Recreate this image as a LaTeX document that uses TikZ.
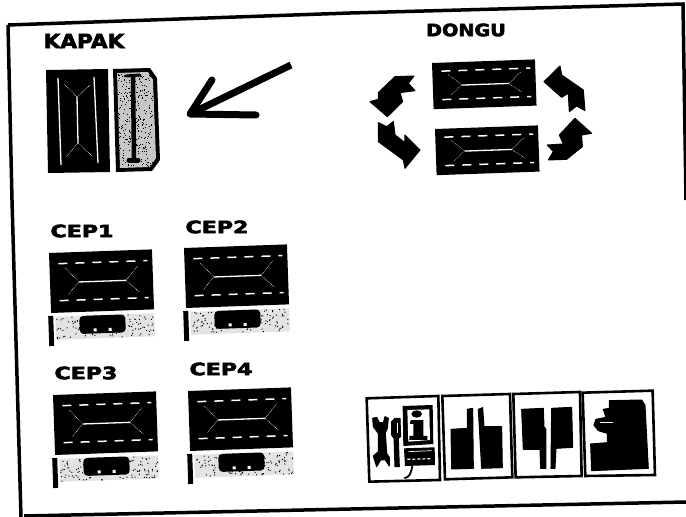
\documentclass[tikz,border=0pt]{standalone}
\usepackage{fontspec}
\setmainfont{DejaVu Sans}
\newfontfamily\titlefont[FakeBold=3]{DejaVu Sans Bold}

\newcommand{\dither}[5]{%
	\foreach \i in {1,...,#5} {
		\pgfmathsetmacro{\px}{#1+rnd*#3}
		\pgfmathsetmacro{\py}{#2+rnd*#4}
		\fill[black] (\px,\py) rectangle +(1,1);
	}
}

\tikzset{
	title/.style={font=\fontsize{17}{20}\titlefont, inner sep=0pt},
	road/.style={white, line width=1.3pt},
	roadedge/.style={white, line width=1.5pt, dash pattern=on 9pt off 8pt},
	roaddiag/.style={white, line width=0.6pt, densely dotted},
	frameline/.style={line width=3.5pt},
	iconbox/.style={draw=black, fill=white, line width=2.6pt},
	solid shape/.style={fill=black, draw=black, line width=1pt, line join=round}
}

\begin{document}
\begin{tikzpicture}[x=1pt, y=-1pt]
	\useasboundingbox (0,0) rectangle (686,517);
	\pgfmathsetseed{11}

	% Outer frame
	\draw[frameline] (8,25) -- (350,13) -- (683,4) -- (686,200);
	\draw[frameline] (8,25) -- (12,200) -- (21,517);
	\draw[frameline] (24,516) -- (350,509) -- (686,502);

	% Titles
	\node[title, xscale=1.27, yscale=1.15] (kapak) at (84,41) {KAPAK};
	\node[title, xscale=1.13] (dongu) at (466,30) {DONGU};
	\node[title, xscale=1.3] (cep1) at (82,231) {CEP1};
	\node[title, xscale=1.3] (cep2) at (217,227) {CEP2};
	\node[title, xscale=1.3] (cep3) at (86,373) {CEP3};
	\node[title, xscale=1.3] (cep4) at (221,369) {CEP4};

	% Side view tile
	\fill[black] (46,70) -- (108,69) -- (110,172) -- (48,173) -- cycle;
	\draw[road] (58,78) -- (61,165);
	\draw[road] (94,77) -- (98,163);
	\draw[road] (77,97) -- (78,143);
	\draw[roaddiag] (64,84) -- (77,97) -- (90,85);
	\draw[roaddiag] (66,157) -- (78,143) -- (92,156);

	% Side plate
	\fill[black] (113,69) -- (150,68) -- (157,78) -- (160,160) -- (152,171) -- (116,172) -- cycle;
	\fill[gray!45] (117,73) -- (148,72) -- (153,80) -- (156,158) -- (150,167) -- (120,168) -- cycle;
	\dither{118}{74}{35}{92}{300}
	\draw[line width=4.5pt] (133,76) -- (134,160);
	\draw[line width=3pt, line cap=round] (126,76) -- (140,75);
	\draw[line width=5pt, line cap=round] (129,160) -- (138,160);

	% Big arrow
	\draw[line width=7pt, line cap=round, line join=round] (212,80) -- (190,114) -- (256,115);
	\draw[line width=7pt] (190,114) -- (291,65);

	% Tiles with their plates
	\foreach \x/\y in {49/253, 184/248, 53/395, 188/391} {
		\begin{scope}[shift={(\x,\y)}, rotate=2]
			\fill[black] (0,0) rectangle (103,60);
			\draw[roadedge] (9,11) -- (98,11);
			\draw[roadedge] (9,48) -- (98,48);
			\draw[road] (29,30) -- (76,30);
			\draw[roaddiag] (16,16) -- (29,30) -- (18,42);
			\draw[roaddiag] (88,16) -- (76,30) -- (89,42);
			\fill[gray!22] (4,64) rectangle (103,87);
			\dither{4}{64}{98}{22}{130}
			\fill[black, rounded corners=4pt] (28,64) rectangle (74,82);
			\fill[white] (42,77) rectangle +(3,3);
			\fill[white] (57,77) rectangle +(3,3);
			\fill[black] (-3,63) rectangle (2,93);
		\end{scope}
	}

	% Cycle tiles
	\foreach \x/\y in {432/63, 435/129} {
		\begin{scope}[shift={(\x,\y)}, rotate=2, yscale=0.77]
			\fill[black] (0,0) rectangle (103,60);
			\draw[roadedge] (9,11) -- (98,11);
			\draw[roadedge] (9,48) -- (98,48);
			\draw[road] (29,30) -- (76,30);
			\draw[roaddiag] (16,16) -- (29,30) -- (18,42);
			\draw[roaddiag] (88,16) -- (76,30) -- (89,42);
		\end{scope}
	}

	% Cycle arrows
	\begin{scope}[shift={(350,0)}, scale=0.3333]
		\path[solid shape] (135,230) -- (192,228) -- (175,250) -- (195,272) -- (150,278) -- (158,305) -- (112,350) -- (60,305) -- (85,298) -- (85,278) -- cycle;
		\path[solid shape] (85,368) -- (110,380) -- (130,365) -- (135,405) -- (165,428) -- (165,405) -- (210,450) -- (165,505) -- (160,480) -- (85,425) -- cycle;
		\path[solid shape] (630,198) -- (635,225) -- (700,270) -- (705,332) -- (680,318) -- (658,335) -- (655,280) -- (635,292) -- (582,245) -- cycle;
		\path[solid shape] (675,355) -- (725,400) -- (695,405) -- (697,440) -- (650,478) -- (595,480) -- (610,455) -- (592,435) -- (640,432) -- (628,405) -- cycle;
	\end{scope}

	% Icon row
	\begin{scope}[shift={(350,370)}, scale=0.3333]
		\draw[iconbox] (50,85) -- (265,78) -- (270,330) -- (58,335) -- cycle;
		\draw[iconbox] (277,78) -- (480,72) -- (487,322) -- (285,328) -- cycle;
		\draw[iconbox] (490,72) -- (690,66) -- (695,318) -- (497,322) -- cycle;
		\draw[iconbox] (698,68) -- (908,62) -- (915,315) -- (706,318) -- cycle;

		% Tools and info
		\path[solid shape] (68,145) -- (80,142) -- (88,158) -- (100,158) -- (105,140) -- (115,145) -- (112,175) -- (106,188) -- (110,250) -- (118,262) -- (118,288) -- (106,270) -- (92,270) -- (80,290) -- (70,258) -- (85,245) -- (85,190) -- (70,170) -- cycle;
		\path[solid shape] (135,145) -- (150,145) -- (152,200) -- (145,205) -- (148,290) -- (135,290) -- (132,205) -- (125,195) -- (125,155) -- cycle;
		\draw[white, line width=0.7pt] (141,160) -- (141,190);
		\fill[black] (158,108) -- (248,105) -- (250,222) -- (160,228) -- cycle;
		\fill[white] (172,120) -- (238,118) -- (240,210) -- (175,215) -- cycle;
		\fill[black] (200,132) circle [x radius=16, y radius=11];
		\fill[black] (182,150) -- (220,150) -- (220,198) -- (232,198) -- (232,210) -- (178,210) -- (178,198) -- (190,198) -- (190,162) -- (180,162) -- cycle;
		\fill[black] (162,235) -- (254,232) -- (255,285) -- (165,288) -- cycle;
		\draw[white, line width=0.7pt] (175,245) -- (245,242);
		\draw[white, line width=1.2pt, dash pattern=on 3pt off 2pt] (172,268) -- (245,266);
		\draw[line width=1.8pt] (187,288) .. controls (182,312) and (180,320) .. (163,325);

		% Silhouettes
		\path[solid shape] (303,178) -- (352,175) -- (352,118) -- (368,115) -- (370,295) -- (305,297) -- cycle;
		\path[solid shape] (385,118) -- (398,113) -- (402,170) -- (455,170) -- (457,293) -- (395,295) -- cycle;
		\path[solid shape] (515,118) -- (580,115) -- (582,170) -- (588,178) -- (588,295) -- (572,295) -- (570,238) -- (520,238) -- cycle;
		\path[solid shape] (605,115) -- (665,112) -- (668,232) -- (618,235) -- (615,295) -- (603,295) -- cycle;
		\path[solid shape] (778,92) -- (875,90) -- (885,105) -- (895,295) -- (725,302) -- (722,222) -- (772,218) -- (772,190) -- (745,182) -- (732,165) -- (738,148) -- (768,142) -- (760,118) -- (778,115) -- cycle;
		\draw[white, line width=0.8pt] (750,158) -- (790,158);
	\end{scope}
\end{tikzpicture}
\end{document}
